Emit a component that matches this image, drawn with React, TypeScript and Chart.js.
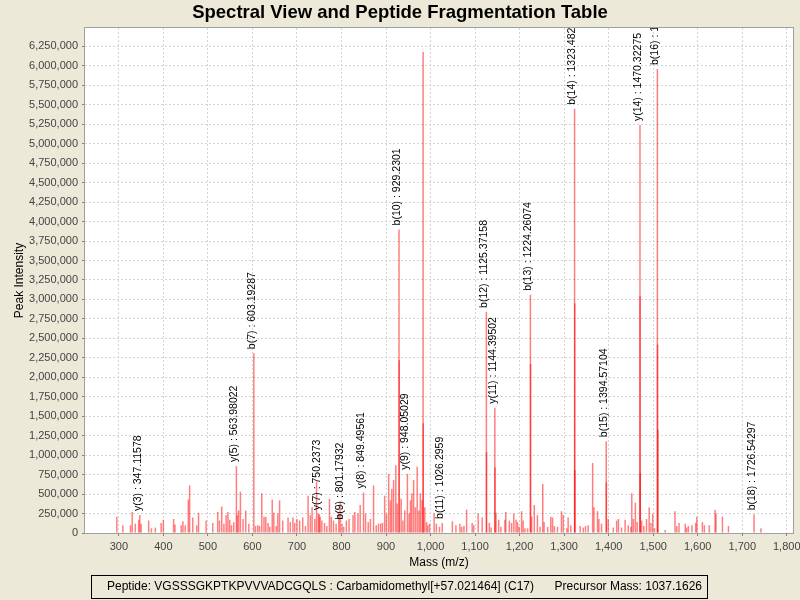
import React, { useEffect, useRef } from "react";
import { Chart, registerables } from "chart.js";

Chart.register(...registerables);

// ---------- data ----------
const peakMz = [
  295.5, 309, 326, 330, 337, 344.5, 347.11578, 350, 367, 373, 382, 395, 400, 423, 426, 440, 444, 449, 456, 459,
  466, 475, 479, 496, 511, 522, 526, 531, 536, 541, 545, 549, 553, 558, 563.98022, 566, 569, 573, 579, 585,
  592, 603.19287, 607, 612, 616, 621, 626, 630, 635, 639, 644.5, 648, 653.5, 657, 661, 668, 680, 685, 691, 695,
  700, 706, 713, 719, 725, 730, 734, 740, 744, 748, 750.2373, 752, 756, 762, 767, 773, 777, 782, 788, 794,
  797, 801.17932, 805, 811, 817, 826, 830, 837, 842, 849.49561, 854, 860, 865, 872, 878, 883, 888, 892, 897, 901,
  906, 910, 913, 917, 922, 925, 929.2301, 929.6, 934, 938, 942, 948.05029, 952, 955, 958, 962, 966, 970, 974, 977,
  981, 983.3, 983.6, 987, 991, 994, 998, 1008, 1013, 1020, 1026.2959,
  1049, 1057, 1066, 1070, 1075, 1081, 1093.5, 1097, 1107, 1116, 1125.37158, 1125.8, 1132, 1136, 1144.39502, 1144.8,
  1147, 1153, 1158, 1167, 1169, 1177, 1182, 1187, 1192, 1195.5, 1199, 1204.5, 1208, 1212, 1218, 1224.26074, 1224.6,
  1227, 1233, 1240, 1246, 1252, 1255, 1263, 1270, 1274, 1278, 1285, 1294, 1298, 1306, 1309, 1315, 1323.4826,
  1323.8, 1324.2, 1336, 1343, 1348, 1354, 1364, 1367, 1375, 1378, 1384, 1394.57104, 1394.9, 1399, 1410.5, 1418,
  1422, 1429, 1437, 1444, 1450, 1452, 1455.5, 1460, 1464, 1470.32275, 1470.6, 1471, 1474, 1479, 1485, 1491, 1495,
  1499, 1503, 1509.4, 1509.8, 1510.6, 1527, 1549, 1553, 1558, 1572, 1575, 1579, 1587, 1595.5, 1598, 1610.5, 1615,
  1626, 1639, 1641, 1655.5, 1669, 1726.54297, 1742,
];

const peakIntensity = [
  210000, 100000, 100000, 270000, 120000, 170000, 230000, 120000, 160000, 60000, 70000, 130000, 170000, 180000, 110000, 100000, 150000, 100000, 430000, 610000,
  200000, 100000, 260000, 160000, 130000, 270000, 160000, 340000, 120000, 230000, 270000, 170000, 100000, 140000, 860000, 230000, 290000, 530000, 180000, 290000,
  120000, 2310000, 90000, 100000, 90000, 510000, 210000, 210000, 130000, 80000, 430000, 260000, 90000, 250000, 420000, 160000, 200000, 140000, 200000, 130000,
  180000, 160000, 200000, 90000, 480000, 230000, 330000, 180000, 660000, 250000, 240000, 210000, 160000, 130000, 90000, 440000, 210000, 160000, 120000, 250000,
  400000, 120000, 80000, 160000, 180000, 230000, 270000, 250000, 360000, 520000, 250000, 140000, 180000, 610000, 100000, 120000, 120000, 130000, 480000, 250000,
  760000, 420000, 570000, 680000, 870000, 380000, 3900000, 2220000, 440000, 160000, 290000, 760000, 250000, 420000, 510000, 680000, 330000, 850000, 290000, 510000,
  420000, 6180000, 1410000, 330000, 140000, 100000, 120000, 250000, 120000, 80000, 130000,
  150000, 100000, 120000, 80000, 90000, 300000, 130000, 100000, 250000, 200000, 2840000, 1040000, 130000, 70000, 1610000, 840000,
  260000, 170000, 80000, 170000, 270000, 160000, 130000, 250000, 170000, 140000, 80000, 280000, 160000, 60000, 60000, 3060000, 2170000,
  210000, 360000, 230000, 80000, 630000, 140000, 80000, 210000, 200000, 90000, 80000, 280000, 230000, 60000, 200000, 100000, 5450000,
  2950000, 810000, 90000, 70000, 90000, 100000, 900000, 330000, 280000, 180000, 120000, 1180000, 650000, 180000, 70000, 160000,
  180000, 70000, 170000, 100000, 80000, 510000, 180000, 390000, 140000, 5240000, 3040000, 770000, 160000, 90000, 180000, 330000, 130000,
  250000, 60000, 5960000, 2420000, 1330000, 40000, 280000, 90000, 130000, 120000, 70000, 90000, 100000, 130000, 210000, 140000, 100000,
  100000, 300000, 250000, 210000, 90000, 240000, 60000,
];

const fragmentNames = [
  "y(3)", "y(5)", "b(7)", "y(7)", "b(9)", "y(8)", "b(10)", "y(9)", "b(11)", "b(12)",
  "y(11)", "b(13)", "b(14)", "b(15)", "y(14)", "b(16)", "b(18)",
];
const fragmentMz = [
  "347.11578", "563.98022", "603.19287", "750.2373", "801.17932", "849.49561", "929.2301", "948.05029", "1026.2959", "1125.37158",
  "1144.39502", "1224.26074", "1323.4826", "1394.57104", "1470.32275", "1509.4", "1726.54297",
];
const fragmentIntensity = [
  230000, 860000, 2310000, 240000, 120000, 520000, 3900000, 760000, 130000, 2840000,
  1610000, 3060000, 5450000, 1180000, 5240000, 5960000, 240000,
];

const xTickValues = [300, 400, 500, 600, 700, 800, 900, 1000, 1100, 1200, 1300, 1400, 1500, 1600, 1700, 1800];
const yTickValues = [
  0, 250000, 500000, 750000, 1000000, 1250000, 1500000, 1750000, 2000000, 2250000, 2500000, 2750000, 3000000,
  3250000, 3500000, 3750000, 4000000, 4250000, 4500000, 4750000, 5000000, 5250000, 5500000, 5750000, 6000000, 6250000,
];

const chartTitle = "Spectral View and Peptide Fragmentation Table";
const xAxisTitle = "Mass (m/z)";
const yAxisTitle = "Peak Intensity";
const peptideText = "Peptide: VGSSSGKPTKPVVVADCGQLS : Carbamidomethyl[+57.021464] (C17)";
const precursorText = "Precursor Mass: 1037.1626";

// ---------- styles ----------
const FONT = '"Liberation Sans", Arial, sans-serif';
const BG = "#ECE9D8";

const fmt = (v: number) => v.toLocaleString("en-US");

const decorPlugin = {
  id: "decor",
  beforeDraw(chart: any) {
    const { ctx, chartArea: a, width, height } = chart;
    ctx.save();
    ctx.fillStyle = BG;
    ctx.fillRect(0, 0, width, height);
    ctx.fillStyle = "#FFFFFF";
    ctx.fillRect(a.left, a.top, a.right - a.left, a.bottom - a.top);
    ctx.restore();
  },
  afterDatasetsDraw(chart: any) {
    const { ctx, chartArea: a, scales } = chart;
    const x = scales.x;
    const y = scales.y;
    ctx.save();
    ctx.beginPath();
    ctx.rect(a.left, a.top, a.right - a.left, a.bottom - a.top);
    ctx.clip();
    ctx.font = `10.5px ${FONT}`;
    ctx.fillStyle = "#000";
    ctx.textAlign = "left";
    ctx.textBaseline = "middle";
    fragmentNames.forEach((n, i) => {
      const px = x.getPixelForValue(parseFloat(fragmentMz[i]));
      const py = y.getPixelForValue(fragmentIntensity[i]);
      ctx.save();
      ctx.translate(px - 2, py - 4);
      ctx.rotate(-Math.PI / 2);
      ctx.fillText(`${n} : ${fragmentMz[i]}`, 0, 0);
      ctx.restore();
    });
    ctx.restore();
  },
  afterDraw(chart: any) {
    const { ctx, chartArea: a } = chart;
    ctx.save();
    // plot border
    ctx.strokeStyle = "#A0A0A0";
    ctx.lineWidth = 1;
    ctx.strokeRect(Math.round(a.left) - 0.5, Math.round(a.top) - 0.5, Math.round(a.right - a.left) + 1, Math.round(a.bottom - a.top) + 1);
    // title
    ctx.fillStyle = "#000";
    ctx.font = `bold 18.5px ${FONT}`;
    ctx.textAlign = "center";
    ctx.textBaseline = "middle";
    ctx.fillText(chartTitle, 400, 13);
    // axis titles
    ctx.font = `12px ${FONT}`;
    ctx.fillStyle = "#000";
    ctx.fillText(xAxisTitle, (a.left + a.right) / 2, 563);
    ctx.save();
    ctx.translate(20, (a.top + a.bottom) / 2);
    ctx.rotate(-Math.PI / 2);
    ctx.fillText(yAxisTitle, 0, 0);
    ctx.restore();
    // info box
    ctx.strokeStyle = "#000";
    ctx.strokeRect(91.5, 575.5, 616, 23);
    ctx.textAlign = "left";
    ctx.fillText(peptideText, 107, 587);
    ctx.textAlign = "right";
    ctx.fillText(precursorText, 702, 587);
    ctx.restore();
  },
};

export default function App() {
  const ref = useRef<HTMLCanvasElement | null>(null);

  useEffect(() => {
    document.body.style.margin = "0";
    const canvas = ref.current;
    if (!canvas) return;
    const data = peakMz.map((m, i) => ({ x: m, y: peakIntensity[i] }));
    const chart = new Chart(canvas, {
      type: "bar",
      data: {
        datasets: [
          {
            data,
            backgroundColor: "rgba(255, 0, 0, 0.5)",
            borderWidth: 0,
            barThickness: 1.5,
            inflateAmount: 0,
          } as any,
        ],
      },
      options: {
        responsive: false,
        animation: false,
        devicePixelRatio: 1,
        layout: { padding: { left: 0, right: 7, top: 28, bottom: 0 } },
        plugins: {
          legend: { display: false },
          tooltip: { enabled: false },
          title: { display: false },
        },
        scales: {
          x: {
            type: "linear",
            min: 224,
            max: 1814,
            offset: false,
            afterFit: (s: any) => {
              s.height = 67;
              s.paddingLeft = 0;
              s.paddingRight = 0;
            },
            afterBuildTicks: (s: any) => {
              s.ticks = xTickValues.map((v) => ({ value: v }));
            },
            grid: {
              color: "#D4D4D4",
              lineWidth: 1,
              drawTicks: true,
              tickLength: 3,
              tickColor: "#808080",
              tickBorderDash: [],
              offset: false,
            },
            border: { display: false, dash: [2, 2] },
            ticks: {
              padding: 4,
              maxRotation: 0,
              autoSkip: false,
              color: "#444",
              font: { family: FONT, size: 11 },
              callback: (v: any) => fmt(Number(v)),
            },
          },
          y: {
            type: "linear",
            min: 0,
            max: 6487000,
            afterFit: (s: any) => {
              s.width = 85;
              s.paddingTop = 0;
              s.paddingBottom = 0;
            },
            afterBuildTicks: (s: any) => {
              s.ticks = yTickValues.map((v) => ({ value: v }));
            },
            grid: {
              color: "#D4D4D4",
              lineWidth: 1,
              drawTicks: true,
              tickLength: 3,
              tickColor: "#808080",
              tickBorderDash: [],
            },
            border: { display: false, dash: [2, 2] },
            ticks: {
              padding: 4,
              autoSkip: false,
              color: "#444",
              font: { family: FONT, size: 11 },
              callback: (v: any) => fmt(Number(v)),
            },
          },
        },
      },
      plugins: [decorPlugin],
    });
    return () => chart.destroy();
  }, []);

  return <canvas ref={ref} width={800} height={600} style={{ display: "block", width: 800, height: 600 }} />;
}
